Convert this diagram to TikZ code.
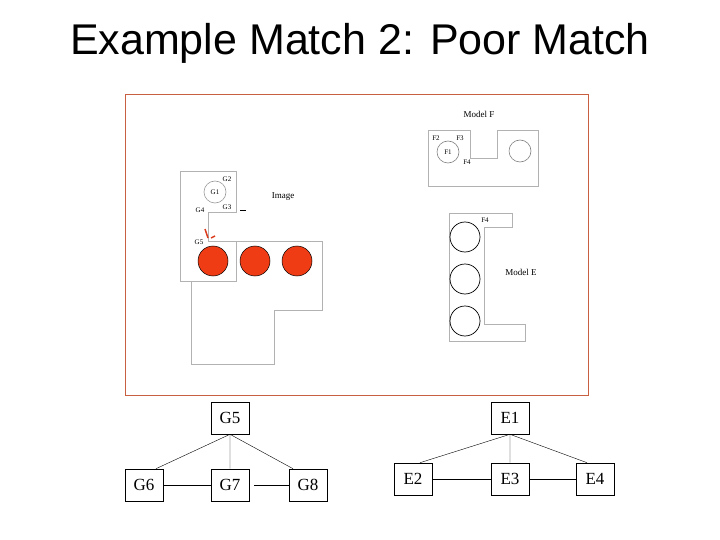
\documentclass[tikz,border=0pt]{standalone}
\usepackage{fontspec}
\setmainfont{Liberation Serif}
\newfontfamily\titlefont{Liberation Sans}
\begin{document}
\begin{tikzpicture}[x=1pt,y=-1pt,
  gl/.style={draw=black!30,line width=0.8pt},
  sm/.style={font=\fontsize{7}{7}\selectfont,inner sep=0pt},
  tb/.style={draw,line width=0.6pt,minimum width=38pt,minimum height=32pt,inner sep=0pt,font=\fontsize{17}{17}\selectfont},
  red/.style={fill={rgb,255:red,240;green,60;blue,20},draw=black,line width=0.5pt},
  wc/.style={draw=black,line width=0.7pt}]
\useasboundingbox (0,0) rectangle (720,540);
\node[font=\titlefont\fontsize{43}{43}\selectfont] (title) at (360,43) {Example Match 2: Poor Match};
\draw[draw={rgb,255:red,200;green,95;blue,65},line width=1pt] (125,95) rectangle (588,395);
% image
\draw[gl] (208,241) -- (208,212) -- (236,212) -- (236,171) -- (180,171) -- (180,281) -- (236,281) -- (236,241);
\draw[gl] (191,281) -- (191,364) -- (274,364) -- (274,310) -- (322,310) -- (322,241) -- (208,241);
\draw[draw=black!40,line width=0.6pt] (215,192) circle (11);
\node[sm] (g1) at (215,192) {G1};
\node[sm] (g2) at (227,179) {G2};
\node[sm] (g3) at (227,207) {G3};
\node[sm] (g4) at (200,210) {G4};
\node[sm] (g5s) at (199,242) {G5};
\node[sm,font=\fontsize{9}{9}\selectfont] (img) at (283,197) {Image};
\draw (240,210) -- (246,210);
\draw[draw={rgb,255:red,220;green,60;blue,30},line width=1.5pt] (205,229) -- (208,238) (211,238) -- (215,236);
\foreach \x/\n in {213/r1,255/r2,297/r3} \draw[red] (\x,261) circle (15);
% model F
\node[sm,font=\fontsize{9}{9}\selectfont] (mf) at (479,114) {Model F};
\draw[gl] (428,130) -- (470,130) -- (470,158) -- (497,158) -- (497,130) -- (538,130) -- (538,186) -- (428,186) -- cycle;
\draw[draw=black!50,line width=0.6pt] (448,152) circle (11) (520,151) circle (11);
\node[sm] (f1) at (448,152) {F1};
\node[sm] (f2) at (436,138) {F2};
\node[sm] (f3) at (460,138) {F3};
\node[sm] (f4) at (467,162) {F4};
% model E
\draw[gl] (449,213) -- (512,213) -- (512,227) -- (484,227) -- (484,324) -- (525,324) -- (525,341) -- (449,341) -- cycle;
\foreach \y in {237,279,321} \draw[wc] (465,\y) circle (15);
\node[sm] (e4s) at (485,220) {F4};
\node[sm,font=\fontsize{9}{9}\selectfont] (me) at (521,272) {Model E};
% trees
\node[tb] (G5) at (230,418) {G5};
\node[tb] (G6) at (144,485) {G6};
\node[tb] (G7) at (230,485) {G7};
\node[tb] (G8) at (308,485) {G8};
\node[tb] (E1) at (510,418) {E1};
\node[tb] (E2) at (413,479) {E2};
\node[tb] (E3) at (510,479) {E3};
\node[tb] (E4) at (595,479) {E4};
\draw (G5.south) -- ([xshift=12pt]G6.north) (G5.south) -- (G7.north) (G5.south) -- ([xshift=-15pt]G8.north);
\draw (G6.east) -- (G7.west) ([xshift=5pt]G7.east) -- (G8.west);
\draw (E1.south) -- ([xshift=7pt]E2.north) (E1.south) -- (E3.north) (E1.south) -- ([xshift=-8pt]E4.north);
\draw (E2.east) -- (E3.west) (E3.east) -- (E4.west);
\end{tikzpicture}
\end{document}
